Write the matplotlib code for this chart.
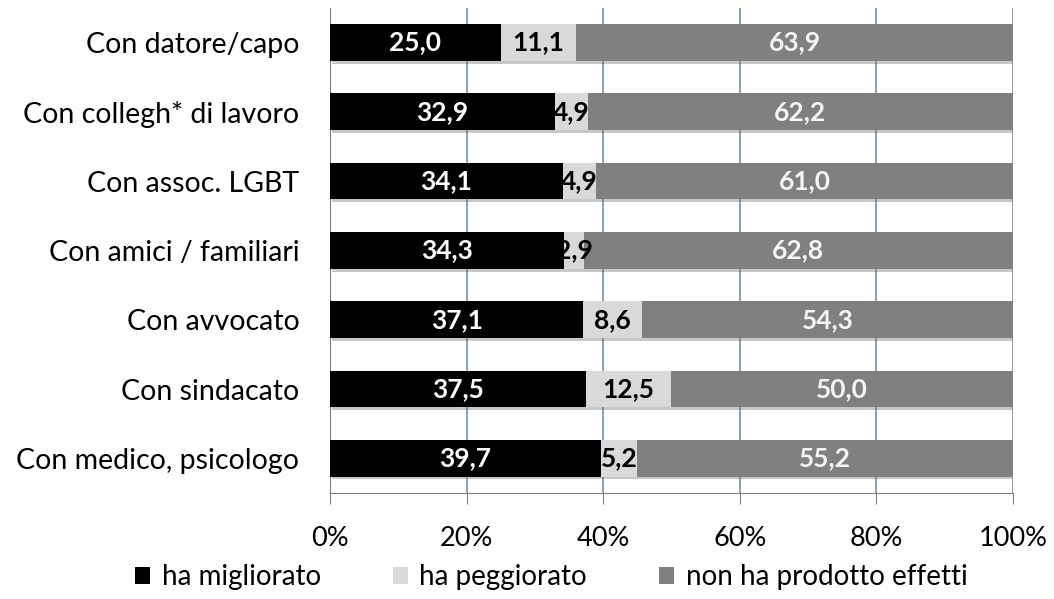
import matplotlib.pyplot as plt
import matplotlib.patheffects as pe
import numpy as np

plt.rcParams['font.family'] = ['Lato', 'DejaVu Sans']

categorie = ["Con datore/capo", "Con collegh* di lavoro", "Con assoc. LGBT",
             "Con amici / familiari", "Con avvocato", "Con sindacato",
             "Con medico, psicologo"]
migliorato = [25.0, 32.9, 34.1, 34.3, 37.1, 37.5, 39.7]
peggiorato = [11.1, 4.9, 4.9, 2.9, 8.6, 12.5, 5.2]
nessun_effetto = [63.9, 62.2, 61.0, 62.8, 54.3, 50.0, 55.2]

serie = [
    ("ha migliorato", migliorato, "#000000", "white"),
    ("ha peggiorato", peggiorato, "#d9d9d9", "black"),
    ("non ha prodotto effetti", nessun_effetto, "#808080", "#f4f4f4"),
]

fig = plt.figure(figsize=(10.54, 5.99), dpi=100)
ax = fig.add_axes([0.313, 0.177, 0.648, 0.81])

y = np.arange(len(categorie))
left = np.zeros(len(categorie))
ombra = [pe.SimplePatchShadow(offset=(1.5, -2), alpha=0.35, shadow_rgbFace="#606060"), pe.Normal()]
for nome, valori, colore, col_testo in serie:
    valori = np.array(valori)
    bars = ax.barh(y, valori, left=left, height=0.53, color=colore, label=nome, zorder=3)
    for b in bars:
        b.set_path_effects(ombra)
    for yi, l, v in zip(y, left, valori):
        ax.text(l + v / 2, yi, f"{v:.1f}".replace(".", ","), ha="center", va="center",
                color=col_testo, fontsize=19, fontweight="bold", zorder=4)
    left = left + valori

ax.set_xlim(0, 100)
ax.set_ylim(len(categorie) - 0.5, -0.5)
ax.set_xticks(range(0, 101, 20))
ax.set_xticklabels([f"{t}%" for t in range(0, 101, 20)])
ax.set_yticks(y)
ax.set_yticklabels(categorie)
ax.tick_params(axis="y", length=0, pad=22, labelsize=20.5)
ax.tick_params(axis="x", length=8, color="#808080", pad=16, labelsize=19.5)
ax.grid(axis="x", color="#7f9cb0", linewidth=1.3, zorder=0)
for s in ["top", "right"]:
    ax.spines[s].set_visible(False)
ax.spines["left"].set_color("#808080")
ax.spines["bottom"].set_color("#808080")

leg = fig.legend(loc="center", bbox_to_anchor=(0.523, 0.036), ncol=3,
                 frameon=False, fontsize=20, handlelength=0.55, handleheight=0.55,
                 handletextpad=0.4, columnspacing=2.6, borderpad=0)
for h in leg.legend_handles:
    h.set_path_effects([])

fig.savefig("out.png", dpi=100)
